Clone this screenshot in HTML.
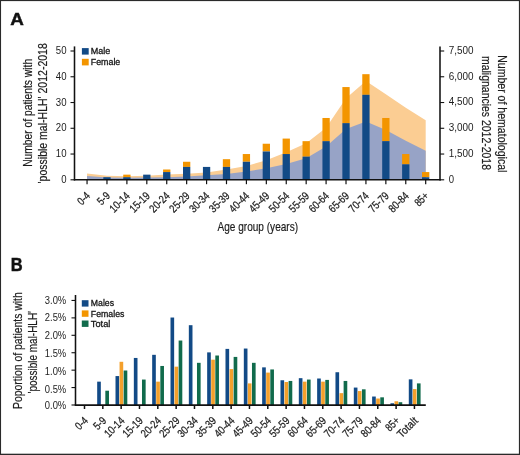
<!DOCTYPE html>
<html lang="en">
<head>
<meta charset="utf-8">
<title>Figure</title>
<style>
html,body{margin:0;padding:0;background:#fff;}
body{width:520px;height:455px;overflow:hidden;position:relative;}
#frame{position:absolute;left:0;top:0;width:520px;height:455px;background:#fff;}
svg{position:absolute;left:0;top:0;display:block;will-change:transform;}
text{font-family:"Liberation Sans",Arial,sans-serif;}
</style>
</head>
<body>
<div id="frame"></div>
<svg width="520" height="455" viewBox="0 0 520 455">
<rect x="0.00" y="0.00" width="520.00" height="1.10" fill="#2a2a2a"/>
<rect x="0.00" y="0.00" width="1.05" height="455.00" fill="#2a2a2a"/>
<rect x="518.90" y="0.00" width="1.10" height="455.00" fill="#2a2a2a"/>
<rect x="0.00" y="453.70" width="520.00" height="1.30" fill="#2a2a2a"/>
<text x="10.30" y="25.00" font-size="17.0" fill="#111" font-weight="bold" stroke="#111" stroke-width="0.45" textLength="13.60" lengthAdjust="spacingAndGlyphs">A</text>
<text x="10.70" y="270.60" font-size="17.5" fill="#111" font-weight="bold" stroke="#111" stroke-width="0.45" textLength="11.90" lengthAdjust="spacingAndGlyphs">B</text>
<polygon points="87.05,173.50 106.97,175.80 126.89,176.30 146.81,175.80 166.73,174.55 186.65,173.85 206.57,172.40 226.49,169.50 246.41,166.00 266.33,160.30 286.25,152.30 306.17,143.30 326.09,127.80 346.01,98.30 365.93,81.10 385.85,94.30 405.77,107.80 425.69,120.30 425.69,179.80 87.05,179.80" fill="#FBCD93"/>
<polygon points="87.05,176.05 106.97,177.50 126.89,177.80 146.81,177.60 166.73,177.30 186.65,176.55 206.57,175.30 226.49,173.90 246.41,171.60 266.33,168.30 286.25,164.00 306.17,158.30 326.09,146.55 346.01,129.05 365.93,121.55 385.85,130.10 405.77,140.80 425.69,150.80 425.69,179.80 87.05,179.80" fill="#97A3C6"/>
<rect x="103.32" y="177.22" width="7.30" height="2.58" fill="#124A86"/>
<rect x="123.24" y="174.65" width="7.30" height="2.58" fill="#F39500"/>
<rect x="123.24" y="177.22" width="7.30" height="2.58" fill="#124A86"/>
<rect x="143.16" y="174.65" width="7.30" height="5.15" fill="#124A86"/>
<rect x="163.08" y="169.50" width="7.30" height="2.58" fill="#F39500"/>
<rect x="163.08" y="172.07" width="7.30" height="7.73" fill="#124A86"/>
<rect x="183.00" y="161.77" width="7.30" height="5.15" fill="#F39500"/>
<rect x="183.00" y="166.92" width="7.30" height="12.88" fill="#124A86"/>
<rect x="202.92" y="166.92" width="7.30" height="12.88" fill="#124A86"/>
<rect x="222.84" y="159.19" width="7.30" height="7.73" fill="#F39500"/>
<rect x="222.84" y="166.92" width="7.30" height="12.88" fill="#124A86"/>
<rect x="242.76" y="154.04" width="7.30" height="7.73" fill="#F39500"/>
<rect x="242.76" y="161.77" width="7.30" height="18.03" fill="#124A86"/>
<rect x="262.68" y="143.74" width="7.30" height="7.73" fill="#F39500"/>
<rect x="262.68" y="151.46" width="7.30" height="28.34" fill="#124A86"/>
<rect x="282.60" y="138.58" width="7.30" height="15.46" fill="#F39500"/>
<rect x="282.60" y="154.04" width="7.30" height="25.76" fill="#124A86"/>
<rect x="302.52" y="141.16" width="7.30" height="15.46" fill="#F39500"/>
<rect x="302.52" y="156.62" width="7.30" height="23.18" fill="#124A86"/>
<rect x="322.44" y="117.98" width="7.30" height="23.18" fill="#F39500"/>
<rect x="322.44" y="141.16" width="7.30" height="38.64" fill="#124A86"/>
<rect x="342.36" y="87.06" width="7.30" height="36.06" fill="#F39500"/>
<rect x="342.36" y="123.13" width="7.30" height="56.67" fill="#124A86"/>
<rect x="362.28" y="74.18" width="7.30" height="20.61" fill="#F39500"/>
<rect x="362.28" y="94.79" width="7.30" height="85.01" fill="#124A86"/>
<rect x="382.20" y="117.98" width="7.30" height="23.18" fill="#F39500"/>
<rect x="382.20" y="141.16" width="7.30" height="38.64" fill="#124A86"/>
<rect x="402.12" y="154.04" width="7.30" height="10.30" fill="#F39500"/>
<rect x="402.12" y="164.34" width="7.30" height="15.46" fill="#124A86"/>
<rect x="422.04" y="172.07" width="7.30" height="5.15" fill="#F39500"/>
<rect x="422.04" y="177.22" width="7.30" height="2.58" fill="#124A86"/>
<line x1="74.50" y1="46.40" x2="74.50" y2="180.45" stroke="#111111" stroke-width="1.55"/>
<line x1="440.00" y1="46.40" x2="440.00" y2="180.45" stroke="#111111" stroke-width="1.55"/>
<line x1="73.85" y1="179.80" x2="440.65" y2="179.80" stroke="#111111" stroke-width="1.55"/>
<line x1="70.50" y1="179.80" x2="74.50" y2="179.80" stroke="#111111" stroke-width="1.1"/>
<line x1="440.00" y1="179.80" x2="444.20" y2="179.80" stroke="#111111" stroke-width="1.1"/>
<text x="66.50" y="183.00" font-size="10" fill="#1c1c1c" text-anchor="end" textLength="5.30" lengthAdjust="spacingAndGlyphs">0</text>
<text x="448.80" y="182.55" font-size="10" fill="#1c1c1c" textLength="5.30" lengthAdjust="spacingAndGlyphs">0</text>
<line x1="70.50" y1="154.04" x2="74.50" y2="154.04" stroke="#111111" stroke-width="1.1"/>
<line x1="440.00" y1="154.04" x2="444.20" y2="154.04" stroke="#111111" stroke-width="1.1"/>
<text x="66.50" y="157.24" font-size="10" fill="#1c1c1c" text-anchor="end" textLength="10.70" lengthAdjust="spacingAndGlyphs">10</text>
<text x="448.80" y="156.79" font-size="10" fill="#1c1c1c" textLength="24.80" lengthAdjust="spacingAndGlyphs">1,500</text>
<line x1="70.50" y1="128.28" x2="74.50" y2="128.28" stroke="#111111" stroke-width="1.1"/>
<line x1="440.00" y1="128.28" x2="444.20" y2="128.28" stroke="#111111" stroke-width="1.1"/>
<text x="66.50" y="131.48" font-size="10" fill="#1c1c1c" text-anchor="end" textLength="10.70" lengthAdjust="spacingAndGlyphs">20</text>
<text x="448.80" y="131.03" font-size="10" fill="#1c1c1c" textLength="24.80" lengthAdjust="spacingAndGlyphs">3,000</text>
<line x1="70.50" y1="102.52" x2="74.50" y2="102.52" stroke="#111111" stroke-width="1.1"/>
<line x1="440.00" y1="102.52" x2="444.20" y2="102.52" stroke="#111111" stroke-width="1.1"/>
<text x="66.50" y="105.72" font-size="10" fill="#1c1c1c" text-anchor="end" textLength="10.70" lengthAdjust="spacingAndGlyphs">30</text>
<text x="448.80" y="105.27" font-size="10" fill="#1c1c1c" textLength="24.80" lengthAdjust="spacingAndGlyphs">4,500</text>
<line x1="70.50" y1="76.76" x2="74.50" y2="76.76" stroke="#111111" stroke-width="1.1"/>
<line x1="440.00" y1="76.76" x2="444.20" y2="76.76" stroke="#111111" stroke-width="1.1"/>
<text x="66.50" y="79.96" font-size="10" fill="#1c1c1c" text-anchor="end" textLength="10.70" lengthAdjust="spacingAndGlyphs">40</text>
<text x="448.80" y="79.51" font-size="10" fill="#1c1c1c" textLength="24.80" lengthAdjust="spacingAndGlyphs">6,000</text>
<line x1="70.50" y1="51.00" x2="74.50" y2="51.00" stroke="#111111" stroke-width="1.1"/>
<line x1="440.00" y1="51.00" x2="444.20" y2="51.00" stroke="#111111" stroke-width="1.1"/>
<text x="66.50" y="54.20" font-size="10" fill="#1c1c1c" text-anchor="end" textLength="10.70" lengthAdjust="spacingAndGlyphs">50</text>
<text x="448.80" y="53.75" font-size="10" fill="#1c1c1c" textLength="24.80" lengthAdjust="spacingAndGlyphs">7,500</text>
<line x1="87.05" y1="179.80" x2="87.05" y2="184.20" stroke="#111111" stroke-width="1.2"/>
<text x="90.85" y="196.50" font-size="11.2" fill="#1c1c1c" text-anchor="end" stroke="#1c1c1c" stroke-width="0.25" textLength="13.00" lengthAdjust="spacingAndGlyphs" transform="rotate(-45 90.85 196.50)">0-4</text>
<line x1="106.97" y1="179.80" x2="106.97" y2="184.20" stroke="#111111" stroke-width="1.2"/>
<text x="110.77" y="196.50" font-size="11.2" fill="#1c1c1c" text-anchor="end" stroke="#1c1c1c" stroke-width="0.25" textLength="13.00" lengthAdjust="spacingAndGlyphs" transform="rotate(-45 110.77 196.50)">5-9</text>
<line x1="126.89" y1="179.80" x2="126.89" y2="184.20" stroke="#111111" stroke-width="1.2"/>
<text x="130.69" y="196.50" font-size="11.2" fill="#1c1c1c" text-anchor="end" stroke="#1c1c1c" stroke-width="0.25" textLength="23.60" lengthAdjust="spacingAndGlyphs" transform="rotate(-45 130.69 196.50)">10-14</text>
<line x1="146.81" y1="179.80" x2="146.81" y2="184.20" stroke="#111111" stroke-width="1.2"/>
<text x="150.61" y="196.50" font-size="11.2" fill="#1c1c1c" text-anchor="end" stroke="#1c1c1c" stroke-width="0.25" textLength="23.60" lengthAdjust="spacingAndGlyphs" transform="rotate(-45 150.61 196.50)">15-19</text>
<line x1="166.73" y1="179.80" x2="166.73" y2="184.20" stroke="#111111" stroke-width="1.2"/>
<text x="170.53" y="196.50" font-size="11.2" fill="#1c1c1c" text-anchor="end" stroke="#1c1c1c" stroke-width="0.25" textLength="23.60" lengthAdjust="spacingAndGlyphs" transform="rotate(-45 170.53 196.50)">20-24</text>
<line x1="186.65" y1="179.80" x2="186.65" y2="184.20" stroke="#111111" stroke-width="1.2"/>
<text x="190.45" y="196.50" font-size="11.2" fill="#1c1c1c" text-anchor="end" stroke="#1c1c1c" stroke-width="0.25" textLength="23.60" lengthAdjust="spacingAndGlyphs" transform="rotate(-45 190.45 196.50)">25-29</text>
<line x1="206.57" y1="179.80" x2="206.57" y2="184.20" stroke="#111111" stroke-width="1.2"/>
<text x="210.37" y="196.50" font-size="11.2" fill="#1c1c1c" text-anchor="end" stroke="#1c1c1c" stroke-width="0.25" textLength="23.60" lengthAdjust="spacingAndGlyphs" transform="rotate(-45 210.37 196.50)">30-34</text>
<line x1="226.49" y1="179.80" x2="226.49" y2="184.20" stroke="#111111" stroke-width="1.2"/>
<text x="230.29" y="196.50" font-size="11.2" fill="#1c1c1c" text-anchor="end" stroke="#1c1c1c" stroke-width="0.25" textLength="23.60" lengthAdjust="spacingAndGlyphs" transform="rotate(-45 230.29 196.50)">35-39</text>
<line x1="246.41" y1="179.80" x2="246.41" y2="184.20" stroke="#111111" stroke-width="1.2"/>
<text x="250.21" y="196.50" font-size="11.2" fill="#1c1c1c" text-anchor="end" stroke="#1c1c1c" stroke-width="0.25" textLength="23.60" lengthAdjust="spacingAndGlyphs" transform="rotate(-45 250.21 196.50)">40-44</text>
<line x1="266.33" y1="179.80" x2="266.33" y2="184.20" stroke="#111111" stroke-width="1.2"/>
<text x="270.13" y="196.50" font-size="11.2" fill="#1c1c1c" text-anchor="end" stroke="#1c1c1c" stroke-width="0.25" textLength="23.60" lengthAdjust="spacingAndGlyphs" transform="rotate(-45 270.13 196.50)">45-49</text>
<line x1="286.25" y1="179.80" x2="286.25" y2="184.20" stroke="#111111" stroke-width="1.2"/>
<text x="290.05" y="196.50" font-size="11.2" fill="#1c1c1c" text-anchor="end" stroke="#1c1c1c" stroke-width="0.25" textLength="23.60" lengthAdjust="spacingAndGlyphs" transform="rotate(-45 290.05 196.50)">50-54</text>
<line x1="306.17" y1="179.80" x2="306.17" y2="184.20" stroke="#111111" stroke-width="1.2"/>
<text x="309.97" y="196.50" font-size="11.2" fill="#1c1c1c" text-anchor="end" stroke="#1c1c1c" stroke-width="0.25" textLength="23.60" lengthAdjust="spacingAndGlyphs" transform="rotate(-45 309.97 196.50)">55-59</text>
<line x1="326.09" y1="179.80" x2="326.09" y2="184.20" stroke="#111111" stroke-width="1.2"/>
<text x="329.89" y="196.50" font-size="11.2" fill="#1c1c1c" text-anchor="end" stroke="#1c1c1c" stroke-width="0.25" textLength="23.60" lengthAdjust="spacingAndGlyphs" transform="rotate(-45 329.89 196.50)">60-64</text>
<line x1="346.01" y1="179.80" x2="346.01" y2="184.20" stroke="#111111" stroke-width="1.2"/>
<text x="349.81" y="196.50" font-size="11.2" fill="#1c1c1c" text-anchor="end" stroke="#1c1c1c" stroke-width="0.25" textLength="23.60" lengthAdjust="spacingAndGlyphs" transform="rotate(-45 349.81 196.50)">65-69</text>
<line x1="365.93" y1="179.80" x2="365.93" y2="184.20" stroke="#111111" stroke-width="1.2"/>
<text x="369.73" y="196.50" font-size="11.2" fill="#1c1c1c" text-anchor="end" stroke="#1c1c1c" stroke-width="0.25" textLength="23.60" lengthAdjust="spacingAndGlyphs" transform="rotate(-45 369.73 196.50)">70-74</text>
<line x1="385.85" y1="179.80" x2="385.85" y2="184.20" stroke="#111111" stroke-width="1.2"/>
<text x="389.65" y="196.50" font-size="11.2" fill="#1c1c1c" text-anchor="end" stroke="#1c1c1c" stroke-width="0.25" textLength="23.60" lengthAdjust="spacingAndGlyphs" transform="rotate(-45 389.65 196.50)">75-79</text>
<line x1="405.77" y1="179.80" x2="405.77" y2="184.20" stroke="#111111" stroke-width="1.2"/>
<text x="409.57" y="196.50" font-size="11.2" fill="#1c1c1c" text-anchor="end" stroke="#1c1c1c" stroke-width="0.25" textLength="23.60" lengthAdjust="spacingAndGlyphs" transform="rotate(-45 409.57 196.50)">80-84</text>
<line x1="425.69" y1="179.80" x2="425.69" y2="184.20" stroke="#111111" stroke-width="1.2"/>
<text x="429.49" y="196.50" font-size="11.2" fill="#1c1c1c" text-anchor="end" stroke="#1c1c1c" stroke-width="0.25" textLength="15.00" lengthAdjust="spacingAndGlyphs" transform="rotate(-45 429.49 196.50)">85+</text>
<rect x="81.90" y="48.10" width="6.80" height="6.50" fill="#124A86"/>
<text x="90.80" y="54.10" font-size="9.0" fill="#151515" stroke="#151515" stroke-width="0.3" textLength="19.50" lengthAdjust="spacingAndGlyphs">Male</text>
<rect x="81.90" y="58.80" width="6.80" height="6.60" fill="#F39500"/>
<text x="90.80" y="64.70" font-size="9.0" fill="#151515" stroke="#151515" stroke-width="0.3" textLength="29.50" lengthAdjust="spacingAndGlyphs">Female</text>
<text x="31.90" y="112.85" font-size="12" fill="#1c1c1c" text-anchor="middle" stroke="#1c1c1c" stroke-width="0.2" textLength="108.00" lengthAdjust="spacingAndGlyphs" transform="rotate(-90 31.90 112.85)">Number of patients with</text>
<text x="47.20" y="113.30" font-size="12" fill="#1c1c1c" text-anchor="middle" stroke="#1c1c1c" stroke-width="0.2" textLength="140.20" lengthAdjust="spacingAndGlyphs" transform="rotate(-90 47.20 113.30)">'possible mal-HLH' 2012-2018</text>
<text x="497.70" y="113.80" font-size="13.4" fill="#1c1c1c" text-anchor="middle" stroke="#1c1c1c" stroke-width="0.2" textLength="117.20" lengthAdjust="spacingAndGlyphs" transform="rotate(90 497.70 113.80)">Number of hematological</text>
<text x="481.50" y="113.00" font-size="13.4" fill="#1c1c1c" text-anchor="middle" stroke="#1c1c1c" stroke-width="0.2" textLength="114.00" lengthAdjust="spacingAndGlyphs" transform="rotate(90 481.50 113.00)">malignancies 2012-2018</text>
<text x="257.80" y="230.50" font-size="13.6" fill="#1c1c1c" text-anchor="middle" stroke="#1c1c1c" stroke-width="0.2" textLength="80.50" lengthAdjust="spacingAndGlyphs">Age group (years)</text>
<rect x="97.18" y="381.65" width="3.65" height="23.35" fill="#124A86"/>
<rect x="105.33" y="390.71" width="3.65" height="14.29" fill="#116B4C"/>
<rect x="115.51" y="376.07" width="3.65" height="28.93" fill="#124A86"/>
<rect x="119.56" y="361.79" width="3.65" height="43.21" fill="#F4A02C"/>
<rect x="123.66" y="370.50" width="3.65" height="34.50" fill="#116B4C"/>
<rect x="133.84" y="357.95" width="3.65" height="47.05" fill="#124A86"/>
<rect x="141.99" y="379.56" width="3.65" height="25.44" fill="#116B4C"/>
<rect x="152.17" y="354.82" width="3.65" height="50.18" fill="#124A86"/>
<rect x="156.22" y="381.65" width="3.65" height="23.35" fill="#F4A02C"/>
<rect x="160.32" y="365.97" width="3.65" height="39.03" fill="#116B4C"/>
<rect x="170.50" y="317.53" width="3.65" height="87.47" fill="#124A86"/>
<rect x="174.55" y="366.66" width="3.65" height="38.34" fill="#F4A02C"/>
<rect x="178.65" y="340.53" width="3.65" height="64.47" fill="#116B4C"/>
<rect x="188.83" y="325.19" width="3.65" height="79.81" fill="#124A86"/>
<rect x="196.98" y="362.83" width="3.65" height="42.17" fill="#116B4C"/>
<rect x="207.16" y="352.38" width="3.65" height="52.62" fill="#124A86"/>
<rect x="211.21" y="359.69" width="3.65" height="45.31" fill="#F4A02C"/>
<rect x="215.31" y="355.51" width="3.65" height="49.49" fill="#116B4C"/>
<rect x="225.49" y="348.89" width="3.65" height="56.11" fill="#124A86"/>
<rect x="229.54" y="369.10" width="3.65" height="35.90" fill="#F4A02C"/>
<rect x="233.64" y="356.91" width="3.65" height="48.09" fill="#116B4C"/>
<rect x="243.82" y="348.54" width="3.65" height="56.46" fill="#124A86"/>
<rect x="247.87" y="383.39" width="3.65" height="21.61" fill="#F4A02C"/>
<rect x="251.97" y="362.83" width="3.65" height="42.17" fill="#116B4C"/>
<rect x="262.15" y="367.36" width="3.65" height="37.64" fill="#124A86"/>
<rect x="266.20" y="372.59" width="3.65" height="32.41" fill="#F4A02C"/>
<rect x="270.30" y="369.45" width="3.65" height="35.55" fill="#116B4C"/>
<rect x="280.48" y="380.26" width="3.65" height="24.74" fill="#124A86"/>
<rect x="284.53" y="382.00" width="3.65" height="23.00" fill="#F4A02C"/>
<rect x="288.63" y="380.95" width="3.65" height="24.05" fill="#116B4C"/>
<rect x="298.81" y="378.17" width="3.65" height="26.83" fill="#124A86"/>
<rect x="302.86" y="381.65" width="3.65" height="23.35" fill="#F4A02C"/>
<rect x="306.96" y="379.56" width="3.65" height="25.44" fill="#116B4C"/>
<rect x="317.14" y="378.51" width="3.65" height="26.49" fill="#124A86"/>
<rect x="321.19" y="381.65" width="3.65" height="23.35" fill="#F4A02C"/>
<rect x="325.29" y="379.91" width="3.65" height="25.09" fill="#116B4C"/>
<rect x="335.47" y="372.24" width="3.65" height="32.76" fill="#124A86"/>
<rect x="339.52" y="393.15" width="3.65" height="11.85" fill="#F4A02C"/>
<rect x="343.62" y="380.95" width="3.65" height="24.05" fill="#116B4C"/>
<rect x="353.80" y="387.57" width="3.65" height="17.43" fill="#124A86"/>
<rect x="357.85" y="391.06" width="3.65" height="13.94" fill="#F4A02C"/>
<rect x="361.95" y="389.32" width="3.65" height="15.68" fill="#116B4C"/>
<rect x="372.13" y="396.53" width="3.65" height="8.47" fill="#124A86"/>
<rect x="376.18" y="398.52" width="3.65" height="6.48" fill="#F4A02C"/>
<rect x="380.28" y="397.33" width="3.65" height="7.67" fill="#116B4C"/>
<rect x="390.46" y="403.26" width="3.65" height="1.74" fill="#124A86"/>
<rect x="394.51" y="401.27" width="3.65" height="3.73" fill="#F4A02C"/>
<rect x="398.61" y="402.21" width="3.65" height="2.79" fill="#116B4C"/>
<rect x="408.79" y="379.35" width="3.65" height="25.65" fill="#124A86"/>
<rect x="412.84" y="389.07" width="3.65" height="15.93" fill="#F4A02C"/>
<rect x="416.94" y="383.39" width="3.65" height="21.61" fill="#116B4C"/>
<line x1="75.50" y1="295.00" x2="75.50" y2="405.65" stroke="#111111" stroke-width="1.55"/>
<line x1="74.85" y1="405.00" x2="425.80" y2="405.00" stroke="#111111" stroke-width="1.75"/>
<line x1="71.50" y1="405.00" x2="75.50" y2="405.00" stroke="#111111" stroke-width="1.1"/>
<text x="66.20" y="408.85" font-size="10" fill="#1c1c1c" text-anchor="end" textLength="21.40" lengthAdjust="spacingAndGlyphs">0.0%</text>
<line x1="71.50" y1="387.57" x2="75.50" y2="387.57" stroke="#111111" stroke-width="1.1"/>
<text x="66.20" y="393.07" font-size="10" fill="#1c1c1c" text-anchor="end" textLength="21.40" lengthAdjust="spacingAndGlyphs">0.5%</text>
<line x1="71.50" y1="370.15" x2="75.50" y2="370.15" stroke="#111111" stroke-width="1.1"/>
<text x="66.20" y="375.10" font-size="10" fill="#1c1c1c" text-anchor="end" textLength="21.40" lengthAdjust="spacingAndGlyphs">1.0%</text>
<line x1="71.50" y1="352.73" x2="75.50" y2="352.73" stroke="#111111" stroke-width="1.1"/>
<text x="66.20" y="357.38" font-size="10" fill="#1c1c1c" text-anchor="end" textLength="21.40" lengthAdjust="spacingAndGlyphs">1.5%</text>
<line x1="71.50" y1="335.30" x2="75.50" y2="335.30" stroke="#111111" stroke-width="1.1"/>
<text x="66.20" y="338.95" font-size="10" fill="#1c1c1c" text-anchor="end" textLength="21.40" lengthAdjust="spacingAndGlyphs">2.0%</text>
<line x1="71.50" y1="317.88" x2="75.50" y2="317.88" stroke="#111111" stroke-width="1.1"/>
<text x="66.20" y="321.32" font-size="10" fill="#1c1c1c" text-anchor="end" textLength="21.40" lengthAdjust="spacingAndGlyphs">2.5%</text>
<line x1="71.50" y1="300.45" x2="75.50" y2="300.45" stroke="#111111" stroke-width="1.1"/>
<text x="66.20" y="303.50" font-size="10" fill="#1c1c1c" text-anchor="end" textLength="21.40" lengthAdjust="spacingAndGlyphs">3.0%</text>
<line x1="84.50" y1="405.00" x2="84.50" y2="409.00" stroke="#111111" stroke-width="1.5"/>
<text x="88.70" y="421.40" font-size="11.2" fill="#1c1c1c" text-anchor="end" stroke="#1c1c1c" stroke-width="0.25" textLength="13.00" lengthAdjust="spacingAndGlyphs" transform="rotate(-45 88.70 421.40)">0-4</text>
<line x1="102.83" y1="405.00" x2="102.83" y2="409.00" stroke="#111111" stroke-width="1.5"/>
<text x="107.03" y="421.40" font-size="11.2" fill="#1c1c1c" text-anchor="end" stroke="#1c1c1c" stroke-width="0.25" textLength="13.00" lengthAdjust="spacingAndGlyphs" transform="rotate(-45 107.03 421.40)">5-9</text>
<line x1="121.16" y1="405.00" x2="121.16" y2="409.00" stroke="#111111" stroke-width="1.5"/>
<text x="125.36" y="421.40" font-size="11.2" fill="#1c1c1c" text-anchor="end" stroke="#1c1c1c" stroke-width="0.25" textLength="23.60" lengthAdjust="spacingAndGlyphs" transform="rotate(-45 125.36 421.40)">10-14</text>
<line x1="139.49" y1="405.00" x2="139.49" y2="409.00" stroke="#111111" stroke-width="1.5"/>
<text x="143.69" y="421.40" font-size="11.2" fill="#1c1c1c" text-anchor="end" stroke="#1c1c1c" stroke-width="0.25" textLength="23.60" lengthAdjust="spacingAndGlyphs" transform="rotate(-45 143.69 421.40)">15-19</text>
<line x1="157.82" y1="405.00" x2="157.82" y2="409.00" stroke="#111111" stroke-width="1.5"/>
<text x="162.02" y="421.40" font-size="11.2" fill="#1c1c1c" text-anchor="end" stroke="#1c1c1c" stroke-width="0.25" textLength="23.60" lengthAdjust="spacingAndGlyphs" transform="rotate(-45 162.02 421.40)">20-24</text>
<line x1="176.15" y1="405.00" x2="176.15" y2="409.00" stroke="#111111" stroke-width="1.5"/>
<text x="180.35" y="421.40" font-size="11.2" fill="#1c1c1c" text-anchor="end" stroke="#1c1c1c" stroke-width="0.25" textLength="23.60" lengthAdjust="spacingAndGlyphs" transform="rotate(-45 180.35 421.40)">25-29</text>
<line x1="194.48" y1="405.00" x2="194.48" y2="409.00" stroke="#111111" stroke-width="1.5"/>
<text x="198.68" y="421.40" font-size="11.2" fill="#1c1c1c" text-anchor="end" stroke="#1c1c1c" stroke-width="0.25" textLength="23.60" lengthAdjust="spacingAndGlyphs" transform="rotate(-45 198.68 421.40)">30-34</text>
<line x1="212.81" y1="405.00" x2="212.81" y2="409.00" stroke="#111111" stroke-width="1.5"/>
<text x="217.01" y="421.40" font-size="11.2" fill="#1c1c1c" text-anchor="end" stroke="#1c1c1c" stroke-width="0.25" textLength="23.60" lengthAdjust="spacingAndGlyphs" transform="rotate(-45 217.01 421.40)">35-39</text>
<line x1="231.14" y1="405.00" x2="231.14" y2="409.00" stroke="#111111" stroke-width="1.5"/>
<text x="235.34" y="421.40" font-size="11.2" fill="#1c1c1c" text-anchor="end" stroke="#1c1c1c" stroke-width="0.25" textLength="23.60" lengthAdjust="spacingAndGlyphs" transform="rotate(-45 235.34 421.40)">40-44</text>
<line x1="249.47" y1="405.00" x2="249.47" y2="409.00" stroke="#111111" stroke-width="1.5"/>
<text x="253.67" y="421.40" font-size="11.2" fill="#1c1c1c" text-anchor="end" stroke="#1c1c1c" stroke-width="0.25" textLength="23.60" lengthAdjust="spacingAndGlyphs" transform="rotate(-45 253.67 421.40)">45-49</text>
<line x1="267.80" y1="405.00" x2="267.80" y2="409.00" stroke="#111111" stroke-width="1.5"/>
<text x="272.00" y="421.40" font-size="11.2" fill="#1c1c1c" text-anchor="end" stroke="#1c1c1c" stroke-width="0.25" textLength="23.60" lengthAdjust="spacingAndGlyphs" transform="rotate(-45 272.00 421.40)">50-54</text>
<line x1="286.13" y1="405.00" x2="286.13" y2="409.00" stroke="#111111" stroke-width="1.5"/>
<text x="290.33" y="421.40" font-size="11.2" fill="#1c1c1c" text-anchor="end" stroke="#1c1c1c" stroke-width="0.25" textLength="23.60" lengthAdjust="spacingAndGlyphs" transform="rotate(-45 290.33 421.40)">55-59</text>
<line x1="304.46" y1="405.00" x2="304.46" y2="409.00" stroke="#111111" stroke-width="1.5"/>
<text x="308.66" y="421.40" font-size="11.2" fill="#1c1c1c" text-anchor="end" stroke="#1c1c1c" stroke-width="0.25" textLength="23.60" lengthAdjust="spacingAndGlyphs" transform="rotate(-45 308.66 421.40)">60-64</text>
<line x1="322.79" y1="405.00" x2="322.79" y2="409.00" stroke="#111111" stroke-width="1.5"/>
<text x="326.99" y="421.40" font-size="11.2" fill="#1c1c1c" text-anchor="end" stroke="#1c1c1c" stroke-width="0.25" textLength="23.60" lengthAdjust="spacingAndGlyphs" transform="rotate(-45 326.99 421.40)">65-69</text>
<line x1="341.12" y1="405.00" x2="341.12" y2="409.00" stroke="#111111" stroke-width="1.5"/>
<text x="345.32" y="421.40" font-size="11.2" fill="#1c1c1c" text-anchor="end" stroke="#1c1c1c" stroke-width="0.25" textLength="23.60" lengthAdjust="spacingAndGlyphs" transform="rotate(-45 345.32 421.40)">70-74</text>
<line x1="359.45" y1="405.00" x2="359.45" y2="409.00" stroke="#111111" stroke-width="1.5"/>
<text x="363.65" y="421.40" font-size="11.2" fill="#1c1c1c" text-anchor="end" stroke="#1c1c1c" stroke-width="0.25" textLength="23.60" lengthAdjust="spacingAndGlyphs" transform="rotate(-45 363.65 421.40)">75-79</text>
<line x1="377.78" y1="405.00" x2="377.78" y2="409.00" stroke="#111111" stroke-width="1.5"/>
<text x="381.98" y="421.40" font-size="11.2" fill="#1c1c1c" text-anchor="end" stroke="#1c1c1c" stroke-width="0.25" textLength="23.60" lengthAdjust="spacingAndGlyphs" transform="rotate(-45 381.98 421.40)">80-84</text>
<line x1="396.11" y1="405.00" x2="396.11" y2="409.00" stroke="#111111" stroke-width="1.5"/>
<text x="400.31" y="421.40" font-size="11.2" fill="#1c1c1c" text-anchor="end" stroke="#1c1c1c" stroke-width="0.25" textLength="15.00" lengthAdjust="spacingAndGlyphs" transform="rotate(-45 400.31 421.40)">85+</text>
<line x1="414.44" y1="405.00" x2="414.44" y2="409.00" stroke="#111111" stroke-width="1.5"/>
<text x="418.64" y="421.40" font-size="11.2" fill="#1c1c1c" text-anchor="end" stroke="#1c1c1c" stroke-width="0.25" textLength="24.20" lengthAdjust="spacingAndGlyphs" transform="rotate(-45 418.64 421.40)">Totalt</text>
<rect x="81.80" y="300.20" width="6.70" height="6.40" fill="#124A86"/>
<text x="90.80" y="306.40" font-size="9.2" fill="#151515" stroke="#151515" stroke-width="0.3" textLength="23.20" lengthAdjust="spacingAndGlyphs">Males</text>
<rect x="81.80" y="310.40" width="6.70" height="6.40" fill="#F39500"/>
<text x="90.80" y="316.50" font-size="9.2" fill="#151515" stroke="#151515" stroke-width="0.3" textLength="33.60" lengthAdjust="spacingAndGlyphs">Females</text>
<rect x="81.80" y="320.50" width="6.70" height="6.40" fill="#116B4C"/>
<text x="90.80" y="326.50" font-size="9.2" fill="#151515" stroke="#151515" stroke-width="0.3" textLength="19.60" lengthAdjust="spacingAndGlyphs">Total</text>
<text x="21.70" y="350.60" font-size="13.4" fill="#1c1c1c" text-anchor="middle" stroke="#1c1c1c" stroke-width="0.2" textLength="116.60" lengthAdjust="spacingAndGlyphs" transform="rotate(-90 21.70 350.60)">Poportion of patients with</text>
<text x="37.30" y="352.20" font-size="13.4" fill="#1c1c1c" text-anchor="middle" stroke="#1c1c1c" stroke-width="0.2" textLength="82.40" lengthAdjust="spacingAndGlyphs" transform="rotate(-90 37.30 352.20)">'possible mal-HLH'</text>
</svg>
</body>
</html>
